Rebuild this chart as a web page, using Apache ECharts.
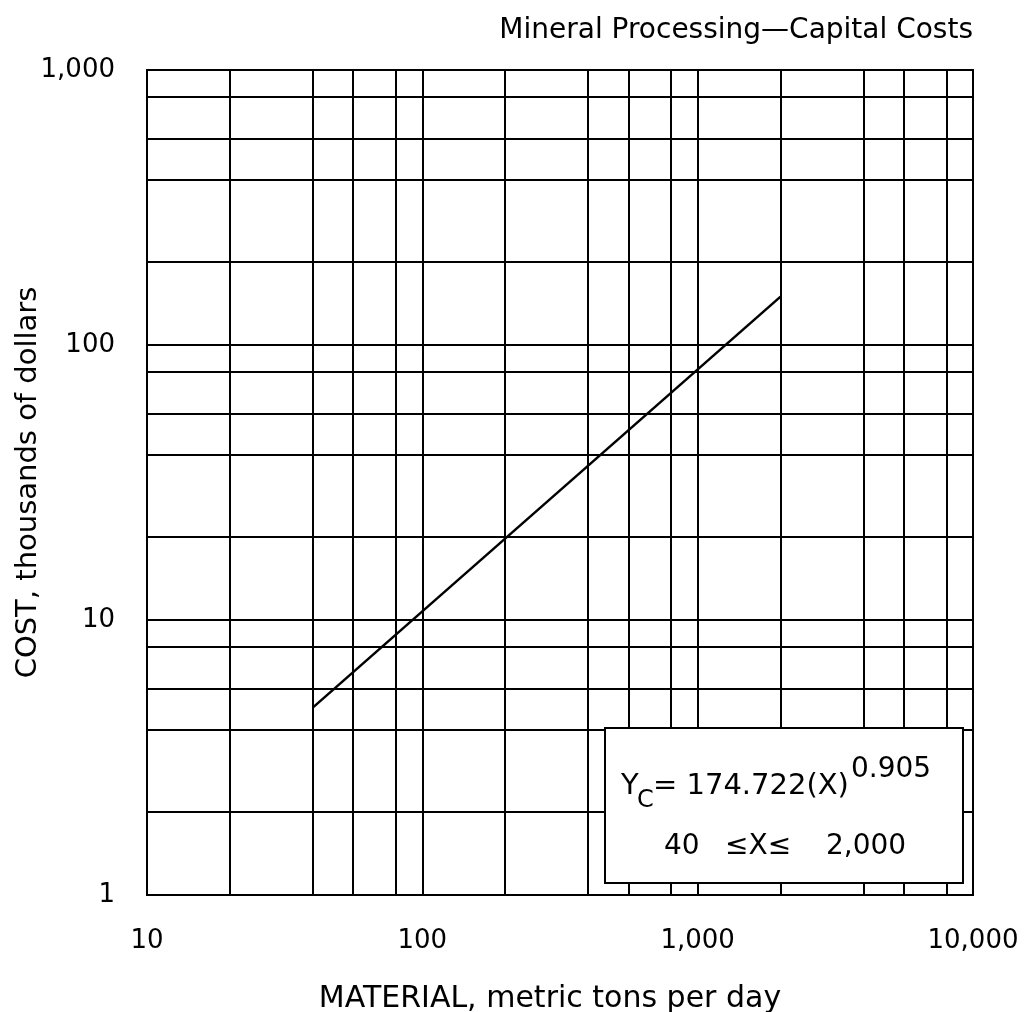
<!DOCTYPE html>
<html>
<head>
<meta charset="utf-8">
<title>Mineral Processing-Capital Costs</title>
<script src="https://cdn.jsdelivr.net/npm/echarts@6/dist/echarts.min.js"></script>
<style>
  html, body { margin: 0; padding: 0; background: #fff; }
  #chart { width: 1025px; height: 1012px; }
</style>
</head>
<body>
<div id="chart"></div>
<script>
// Capacity (metric tons per day) and capital cost (thousands of dollars) at the ends of the fitted line
const materialTons = [40, 2000];
const costThousands = [4.8, 150];

// Decade tick labels
const xTickLabels = ['10', '100', '1,000', '10,000'];
const yTickLabels = ['1', '10', '100', '1,000'];

// Intermediate grid rulings inside each decade
const xGridValues = [20, 40, 56, 80, 200, 400, 560, 800, 2000, 4000, 5600, 8000];
const yGridValues = [2, 4, 5.6, 8, 20, 40, 56, 80, 200, 400, 560, 800];

const FONT = '"DejaVu Sans", "Liberation Sans", sans-serif';
const INK = '#000';

const chart = echarts.init(document.getElementById('chart'), null, { renderer: 'canvas' });

const gridRules = xGridValues.map(v => ({ xAxis: v }))
  .concat(yGridValues.map(v => ({ yAxis: v })));

function decadeLabel(labels, base) {
  return function (value) {
    const i = Math.round(Math.log10(value) - Math.log10(base));
    return labels[i] !== undefined ? labels[i] : '';
  };
}

// Text pieces of the fitted-equation note
function noteText(text, x, y, size) {
  return {
    type: 'text',
    x: x, y: y, z: 101,
    style: {
      text: text,
      fontFamily: FONT,
      fontSize: size,
      fill: INK,
      verticalAlign: 'bottom',
      textVerticalAlign: 'bottom'
    }
  };
}

const option = {
  animation: false,
  backgroundColor: '#fff',
  title: {
    text: 'Mineral Processing\u2014Capital Costs',
    right: 47,
    top: 12,
    textStyle: { fontFamily: FONT, fontSize: 28, fontWeight: 'normal', color: INK }
  },
  grid: {
    left: 147, right: 52, top: 70, bottom: 117,
    outerBoundsMode: 'none',
    containLabel: false,
    show: true, borderColor: INK, borderWidth: 2, backgroundColor: 'transparent'
  },
  xAxis: {
    type: 'log',
    logBase: 10,
    min: 10,
    max: 10000,
    name: 'MATERIAL, metric tons per day',
    nameLocation: 'middle',
    nameGap: 89,
    nameMoveOverlap: false,
    nameTextStyle: { fontFamily: FONT, fontSize: 30, color: INK, padding: [0, 20, 0, 0] },
    axisLine: { show: true, lineStyle: { color: INK, width: 2 } },
    axisTick: { show: false },
    axisLabel: {
      margin: 33,
      fontFamily: FONT, fontSize: 26, color: INK,
      formatter: decadeLabel(xTickLabels, 10)
    },
    splitLine: { show: true, lineStyle: { color: INK, width: 2 } },
    minorTick: { show: false },
    minorSplitLine: { show: false }
  },
  yAxis: {
    type: 'log',
    logBase: 10,
    min: 1,
    max: 1000,
    name: 'COST, thousands of dollars',
    nameLocation: 'middle',
    nameGap: 104,
    nameMoveOverlap: false,
    nameTextStyle: { fontFamily: FONT, fontSize: 29, color: INK },
    axisLine: { show: true, lineStyle: { color: INK, width: 2 } },
    axisTick: { show: false },
    axisLabel: {
      margin: 32,
      fontFamily: FONT, fontSize: 26, color: INK,
      formatter: decadeLabel(yTickLabels, 1)
    },
    splitLine: { show: true, lineStyle: { color: INK, width: 2 } },
    minorTick: { show: false },
    minorSplitLine: { show: false }
  },
  series: [
    {
      type: 'line',
      data: materialTons.map((x, i) => [x, costThousands[i]]),
      symbol: 'none',
      lineStyle: { color: INK, width: 2.5 },
      z: 5,
      markLine: {
        silent: true,
        symbol: 'none',
        label: { show: false },
        lineStyle: { color: INK, width: 2, type: 'solid' },
        emphasis: { disabled: true },
        data: gridRules,
        z: 2
      }
    }
  ],
  graphic: [
    {
      type: 'rect',
      z: 100,
      shape: { x: 605, y: 728, width: 358, height: 155 },
      style: { fill: '#fff', stroke: INK, lineWidth: 2 }
    },
    noteText('Y', 621, 801, 29),
    noteText('C', 637, 813, 24),
    noteText('= 174.722(X)', 653, 801, 29),
    noteText('0.905', 851, 784, 28),
    noteText('40', 664, 861, 28),
    noteText('\u2264X\u2264', 725, 861, 28),
    noteText('2,000', 826, 861, 28)
  ]
};

chart.setOption(option);
</script>
</body>
</html>
